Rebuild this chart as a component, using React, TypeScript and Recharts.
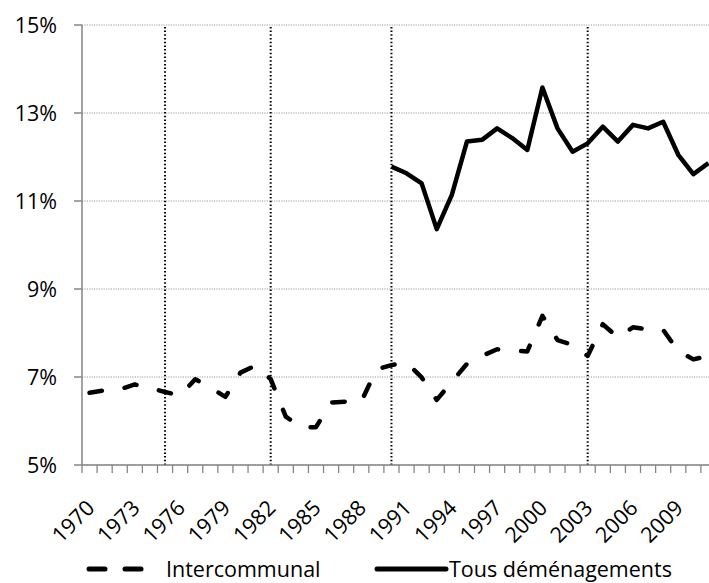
import React from "react";
import {
  LineChart,
  Line,
  XAxis,
  YAxis,
  CartesianGrid,
  ReferenceLine,
} from "recharts";

const years = [
  1970, 1971, 1972, 1973, 1974, 1975, 1976, 1977, 1978, 1979, 1980, 1981,
  1982, 1983, 1984, 1985, 1986, 1987, 1988, 1989, 1990, 1991, 1992, 1993,
  1994, 1995, 1996, 1997, 1998, 1999, 2000, 2001, 2002, 2003, 2004, 2005,
  2006, 2007, 2008, 2009, 2010, 2011,
];

const intercommunal = [
  6.64, 6.7, 6.72, 6.83, 6.75, 6.66, 6.58, 6.95, 6.76, 6.55, 7.1, 7.26, 6.95,
  6.1, 5.86, 5.86, 6.42, 6.44, 6.44, 7.17, 7.27, 7.33, 6.99, 6.48, 6.89, 7.3,
  7.48, 7.63, 7.6, 7.58, 8.39, 7.84, 7.73, 7.48, 8.2, 7.9, 8.13, 8.08, 8.07,
  7.59, 7.4, 7.48,
];

// starts in 1990
const tousDemenagements = [
  11.78, 11.63, 11.4, 10.36, 11.14, 12.35, 12.39, 12.65, 12.43, 12.16, 13.58,
  12.65, 12.12, 12.31, 12.69, 12.35, 12.73, 12.65, 12.8, 12.05, 11.61, 11.86,
];
const tousStart = 1990;

const yTicks = [5, 7, 9, 11, 13, 15];
const labelYears = [
  1970, 1973, 1976, 1979, 1982, 1985, 1988, 1991, 1994, 1997, 2000, 2003, 2006,
  2009,
];
const markerYears = [1975, 1982, 1990, 2003];

const FONT = "'Open Sans', sans-serif";
const FONT_SIZE = 21.5;
const AXIS_GRAY = "#868686";

const data = years.map((year, i) => ({
  year,
  inter: intercommunal[i],
  tous: year >= tousStart ? tousDemenagements[year - tousStart] : null,
}));

// tick marks sit between categories, labels on the category centres
const boundaries = [...years.map((y) => y - 0.5), years[years.length - 1] + 0.5];
const xTicks = [...boundaries, ...labelYears].sort((a, b) => a - b);

const XTick = (props: any) => {
  const { x, y, payload } = props;
  const v = payload.value as number;
  if (!Number.isInteger(v)) {
    return <line x1={x} x2={x} y1={y - 8} y2={y} stroke={AXIS_GRAY} strokeWidth={1.3} />;
  }
  const lx = x + 1;
  const ly = y + 31;
  return (
    <text
      x={lx}
      y={ly}
      dy="0.35em"
      textAnchor="end"
      transform={`rotate(-45 ${lx} ${ly})`}
      fill="#000"
      fontSize={FONT_SIZE}
      fontFamily={FONT}
    >
      {v}
    </text>
  );
};

export default function App() {
  return (
    <div
      style={{
        position: "fixed",
        left: 0,
        top: 0,
        width: 709,
        height: 583,
        overflow: "hidden",
        background: "#fff",
      }}
    >
      <LineChart
        width={718}
        height={583}
        data={data}
        margin={{ top: 25, right: 2, bottom: 0, left: 0 }}
      >
        <CartesianGrid
          vertical={false}
          stroke="#9a9a9a"
          strokeDasharray="1.2 1.2"
        />
        {markerYears.map((yr) => (
          <ReferenceLine
            key={yr}
            x={yr}
            stroke="#000"
            strokeWidth={2}
            strokeDasharray="1.5 2.2"
          />
        ))}
        <XAxis
          dataKey="year"
          type="number"
          domain={[1969.5, 2011.5]}
          ticks={xTicks}
          interval={0}
          tickLine={false}
          tickSize={8}
          tickMargin={0}
          tick={<XTick />}
          axisLine={{ stroke: AXIS_GRAY, strokeWidth: 1.5 }}
          height={118}
        />
        <YAxis
          domain={[5, 15]}
          ticks={yTicks}
          interval={0}
          width={82}
          tickSize={8}
          tickMargin={17}
          tickFormatter={(v) => `${v}%`}
          tick={{ fill: "#000", fontSize: FONT_SIZE, fontFamily: FONT }}
          tickLine={{ stroke: AXIS_GRAY, strokeWidth: 1.5 }}
          axisLine={{ stroke: AXIS_GRAY, strokeWidth: 1.5 }}
        />
        <Line
          dataKey="inter"
          stroke="#000"
          strokeWidth={4.5}
          strokeDasharray="12.5 23"
          strokeLinecap="round"
          strokeLinejoin="round"
          dot={false}
          isAnimationActive={false}
        />
        <Line
          dataKey="tous"
          stroke="#000"
          strokeWidth={4.5}
          strokeLinejoin="round"
          dot={false}
          connectNulls={false}
          isAnimationActive={false}
        />
      </LineChart>
      <svg
        width={709}
        height={40}
        style={{ position: "absolute", left: 0, top: 550 }}
        fontFamily={FONT}
        fontSize={FONT_SIZE}
      >
        <line x1={89} x2={105} y1={19} y2={19} stroke="#000" strokeWidth={5} strokeLinecap="round" />
        <line x1={125} x2={141} y1={19} y2={19} stroke="#000" strokeWidth={5} strokeLinecap="round" />
        <text x={166} y={26.7} fill="#000">
          Intercommunal
        </text>
        <line x1={377} x2={446} y1={19} y2={19} stroke="#000" strokeWidth={5} strokeLinecap="round" />
        <text x={449} y={26.7} fill="#000">
          Tous déménagements
        </text>
      </svg>
    </div>
  );
}
